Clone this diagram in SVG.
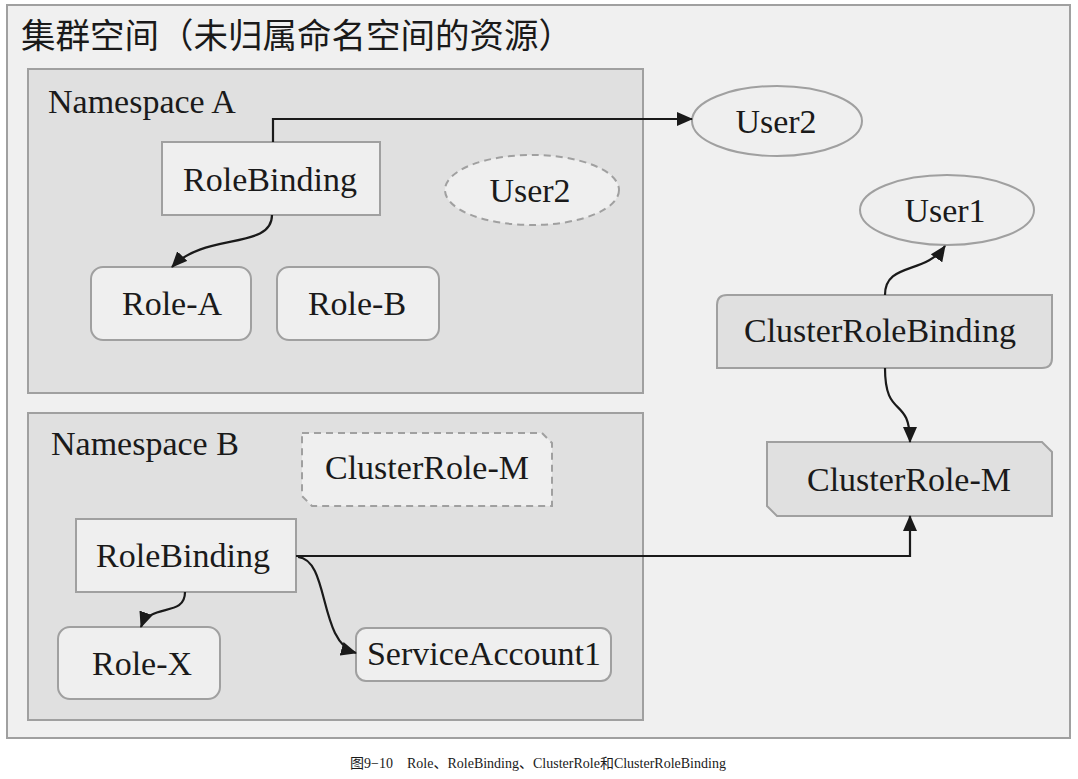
<svg xmlns="http://www.w3.org/2000/svg" width="1078" height="779" viewBox="0 0 1078 779">
<style>
.t{font-family:"Liberation Serif","Times New Roman",serif;font-size:34px;fill:#1a1a1a;text-anchor:middle}
.lbl{font-family:"Liberation Serif","Times New Roman",serif;font-size:34px;fill:#1a1a1a}
.ns{fill:#e0e0e0;stroke:#a0a0a0;stroke-width:2}
.light{fill:#efefef;stroke:#a0a0a0;stroke-width:2}
.dark{fill:#e0e0e0;stroke:#a0a0a0;stroke-width:2}
.dash{stroke-dasharray:7 5}
.c{fill:none;stroke:#1a1a1a;stroke-width:2.2}
</style>
<defs>
<marker id="ah" markerUnits="userSpaceOnUse" markerWidth="16" markerHeight="14" viewBox="0 0 16 14" refX="15" refY="7" orient="auto">
<path d="M0,0 L16,7 L0,14 Z" fill="#1a1a1a"/>
</marker>
</defs>
<rect width="1078" height="779" fill="#ffffff"/>
<g id="cluster">
<rect x="7" y="5" width="1063" height="733" fill="#f0f0f0" stroke="#a0a0a0" stroke-width="2"/>
<text x="21" y="48" font-family="'Noto Sans CJK SC',sans-serif" font-size="34.5" fill="#1a1a1a">集群空间（未归属命名空间的资源）</text>
</g>
<g id="namespaceA">
<rect class="ns" x="28" y="69" width="615" height="324"/>
<text class="lbl" x="48" y="113">Namespace A</text>
</g>
<g id="namespaceB">
<rect class="ns" x="28" y="413" width="615" height="307"/>
<text class="lbl" x="51" y="455">Namespace B</text>
</g>
<g id="rolebindingA">
<rect class="light" x="162" y="142" width="218" height="73"/>
<text class="t" x="270" y="191">RoleBinding</text>
</g>
<g id="user2A">
<ellipse class="light dash" cx="532" cy="190" rx="87" ry="35"/>
<text class="t" x="530" y="202">User2</text>
</g>
<g id="roleA">
<rect class="light" x="91" y="267" width="160" height="73" rx="12"/>
<text class="t" x="172" y="315">Role-A</text>
</g>
<g id="roleB">
<rect class="light" x="277" y="267" width="162" height="73" rx="12"/>
<text class="t" x="357" y="315">Role-B</text>
</g>
<g id="user2">
<ellipse class="light" cx="777" cy="121" rx="85" ry="35"/>
<text class="t" x="776" y="133">User2</text>
</g>
<g id="user1">
<ellipse class="light" cx="947" cy="210" rx="87" ry="35"/>
<text class="t" x="945" y="222">User1</text>
</g>
<g id="clusterRoleBinding">
<path class="dark" d="M727,295 H1052 V358 Q1052,368 1042,368 H717 V305 Q717,295 727,295 Z"/>
<text class="t" x="880" y="342">ClusterRoleBinding</text>
</g>
<g id="clusterRoleM">
<path class="dark" d="M767,442 H1042 L1052,452 V516 H777 L767,506 Z"/>
<text class="t" x="909" y="491">ClusterRole-M</text>
</g>
<g id="clusterRoleMB">
<path class="light dash" d="M302,433 H542 L552,443 V506 H312 L302,496 Z"/>
<text class="t" x="427" y="479">ClusterRole-M</text>
</g>
<g id="rolebindingB">
<rect class="light" x="76" y="519" width="220" height="73"/>
<text class="t" x="183" y="567">RoleBinding</text>
</g>
<g id="roleX">
<rect class="light" x="58" y="627" width="162" height="72" rx="12"/>
<text class="t" x="142" y="675">Role-X</text>
</g>
<g id="serviceAccount1">
<rect class="light" x="356" y="628" width="255" height="53" rx="10"/>
<text class="t" x="484" y="665">ServiceAccount1</text>
</g>
<g id="connectors">
<path class="c" d="M273,142 V119 H692" marker-end="url(#ah)"/>
<path class="c" d="M272,215 C272,250 205,232 172,267" marker-end="url(#ah)"/>
<path class="c" d="M885,295 C885,262 925,275 945,246" marker-end="url(#ah)"/>
<path class="c" d="M885,368 C885,420 910,395 910,442" marker-end="url(#ah)"/>
<path class="c" d="M185,592 C185,618 150,602 141,627" marker-end="url(#ah)"/>
<path class="c" d="M298,557 C330,560 318,642 356,653" marker-end="url(#ah)"/>
<path class="c" d="M296,556 H910 V516" marker-end="url(#ah)"/>
</g>
<g id="caption">
<text x="538" y="768" text-anchor="middle" font-family="'Liberation Serif','Noto Sans CJK SC',serif" font-size="14" fill="#1a1a1a">图9−10　Role、RoleBinding、ClusterRole和ClusterRoleBinding</text>
</g>
</svg>
